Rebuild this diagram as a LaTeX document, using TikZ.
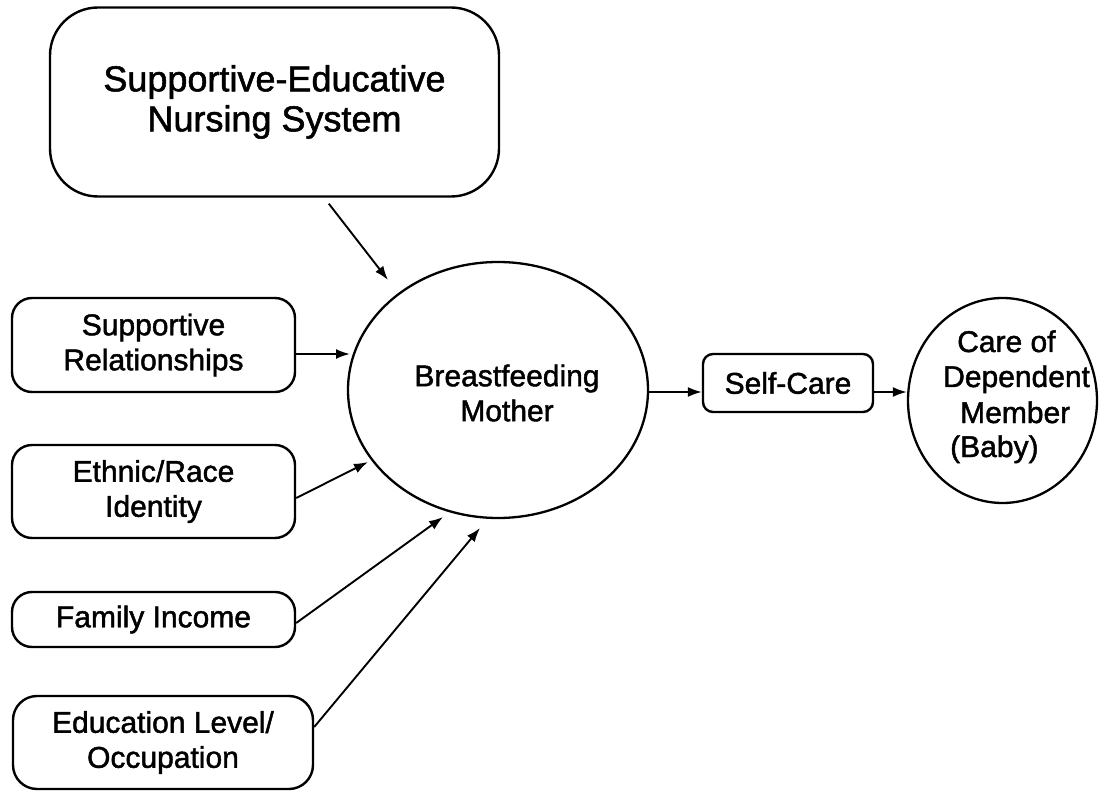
\documentclass[tikz,border=0pt]{standalone}
\usepackage{fontspec}
\setmainfont{Liberation Sans}[FakeBold=1.5]
\usetikzlibrary{arrows.meta,calc,shapes.geometric}
\begin{document}
\begin{tikzpicture}[x=1pt,y=-1pt,
  box/.style={draw,line width=2.4pt,rounded corners=20pt,align=center,inner sep=0pt,
    font=\fontsize{30}{35}\selectfont},
  oval/.style={draw,ellipse,line width=2.3pt,inner sep=0pt},
  txt/.style={inner sep=0pt,font=\fontsize{30}{35}\selectfont},
  arr/.style={line width=1.9pt,-{Latex[length=14pt,width=10pt]}}]
\useasboundingbox (0,0) rectangle (1103,791);
% top box
\node[box,rounded corners=48pt,minimum width=449pt,minimum height=189pt,
  font=\fontsize{36}{40}\selectfont] (top) at (274.5,102) {Supportive-Educative\\Nursing System};
% left boxes
\node[box,minimum width=283pt,minimum height=94pt] (b1) at (153.5,345) {Supportive\\Relationships};
\node[box,minimum width=283pt,minimum height=93pt] (b2) at (153.5,491.5) {Ethnic/Race\\Identity};
\node[box,minimum width=283pt,minimum height=55pt] (b3) at (153.5,619.5) {Family Income};
\node[box,rounded corners=24pt,minimum width=300pt,minimum height=93pt] (b4) at (163,742.5) {Education Level/\\Occupation};
% mother
\node[oval,minimum width=300pt,minimum height=256pt] (mother) at (498,390) {};
\node[txt,align=center] (mothertext) at (507,393) {Breastfeeding\\Mother};
% self-care
\node[box,rounded corners=10pt,minimum width=170pt,minimum height=58pt] (self) at (788,383) {Self-Care};
% care
\node[oval,minimum width=189pt,minimum height=205pt] (care) at (1002.5,400.5) {};
\node[txt,anchor=base west] (c1) at (957,352) {Care of};
\node[txt,anchor=base west] (c2) at (943,387) {Dependent};
\node[txt,anchor=base west] (c3) at (960,423) {Member};
\node[txt,anchor=base west] (c4) at (950,457) {(Baby)};
% tips and starts
\coordinate (t0) at (388,280);
\coordinate (t1) at (350,354);
\coordinate (t2) at (368,462);
\coordinate (t3) at (443,517);
\coordinate (t4) at (480,528);
\coordinate (s0) at ($(top.south west)+(280,6)$);
\coordinate (s2) at ($(b2.east)+(0,6.5)$);
\coordinate (s3) at ($(b3.east)+(0,3.5)$);
\coordinate (s4) at ($(b4.east)+(0,-15.5)$);
\coordinate (m) at ($(mother.east)+(0,2)$);
% arrows
\draw[arr] (s0) -- (t0);
\draw[arr] (b1.east |- t1) -- (t1);
\draw[arr] (s2) -- (t2);
\draw[arr] (s3) -- (t3);
\draw[arr] (s4) -- (t4);
\draw[arr] (m) -- (m -| self.west);
\draw[arr] (self.east |- m) -- (m -| care.west);
\end{tikzpicture}
\end{document}
